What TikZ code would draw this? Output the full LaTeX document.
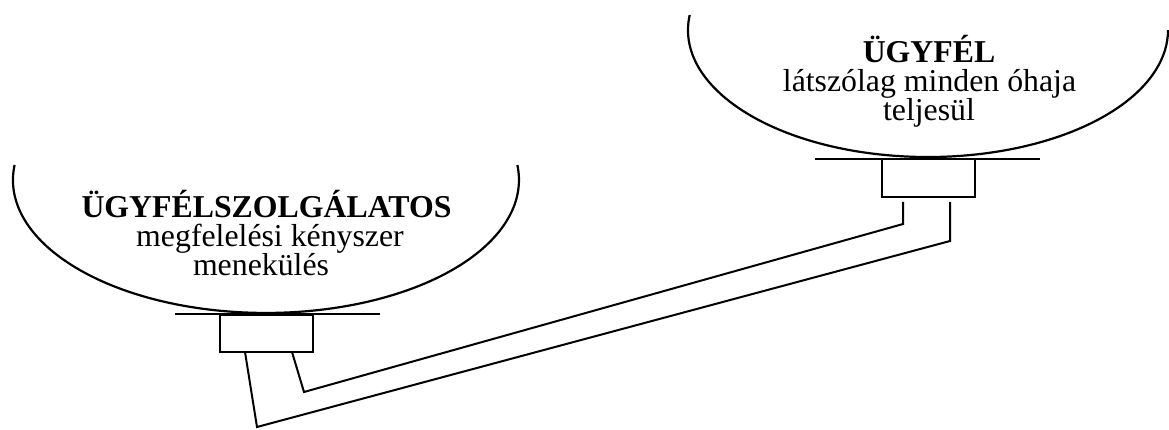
\documentclass[tikz,border=0pt]{standalone}
\usepackage{fontspec}
\setmainfont{Liberation Serif}
\begin{document}
\begin{tikzpicture}[x=1pt,y=1pt,
  line width=2pt,
  outline/.style={draw=black,line width=2.2pt},
  base/.style={draw=black,line width=1.8pt},
  boxnode/.style={draw=black,line width=2pt,rectangle,minimum width=93pt,minimum height=37pt,inner sep=0pt,fill=white},
  wire/.style={draw=black,line width=2pt,line join=miter},
  txt/.style={anchor=base,inner sep=0pt,font=\fontsize{31.8}{29}\selectfont},
  ttl/.style={txt,font=\fontsize{31.8}{29}\selectfont\bfseries}]
\useasboundingbox (0,0) rectangle (1169,-430);
\fill[white] (0,0) rectangle (1169,-430);

% left balloon
\draw[outline] (14.6,-164.9) arc[start angle=173.5,end angle=366.5,x radius=253,y radius=133];
\coordinate (lbl) at (175,-314);
\coordinate (lbr) at (380,-314);
\draw[base] (lbl) -- (lbr);
\node[boxnode] (lbox) at (266.5,-333.5) {};
\node[ttl] (lt1) at (266.5,-218) {ÜGYFÉLSZOLGÁLATOS};
\node[txt] (lt2) at (270,-247) {megfelelési kényszer};
\node[txt] (lt3) at (261,-276) {menekülés};

% right balloon
\draw[outline] (689.7,-15) arc[start angle=173.2,end angle=360,x radius=240,y radius=127];
\coordinate (rbl) at (815,-159);
\coordinate (rbr) at (1040,-159);
\draw[base] (rbl) -- (rbr);
\node[boxnode,minimum height=38pt] (rbox) at (928.5,-178) {};
\node[ttl] (rt1) at (929,-63) {ÜGYFÉL};
\node[txt] (rt2) at (929.5,-92) {látszólag minden óhaja};
\node[txt] (rt3) at (929,-121) {teljesül};

% legs
\coordinate (la1) at (245,-352);
\coordinate (la2) at (257,-427);
\coordinate (lb1) at (292,-352);
\coordinate (lb2) at (304,-392);
\coordinate (ra1) at (903,-202);
\coordinate (ra2) at (903,-224);
\coordinate (rb1) at (950,-202);
\coordinate (rb2) at (950,-241);

\draw[wire] (la1) -- (la2) -- (rb2) -- (rb1);
\draw[wire] (lb1) -- (lb2) -- (ra2) -- (ra1);
\end{tikzpicture}
\end{document}
